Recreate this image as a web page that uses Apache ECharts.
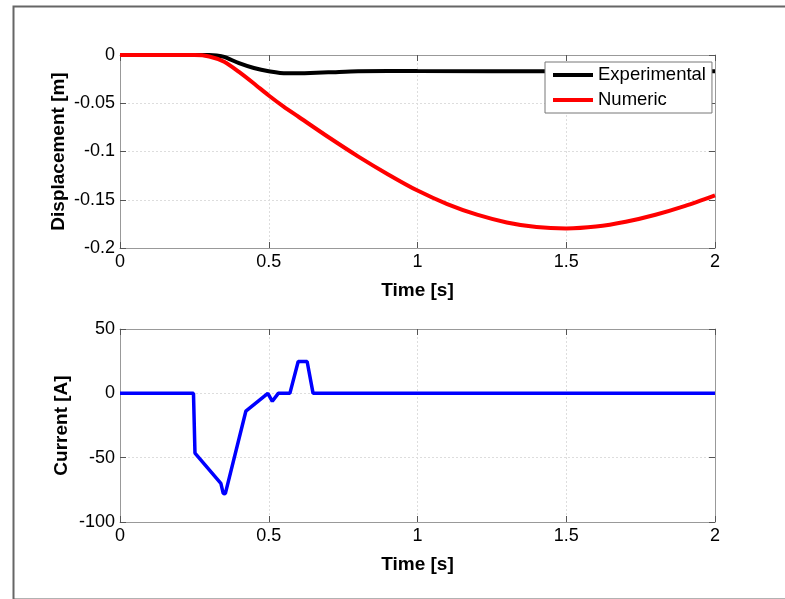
<!DOCTYPE html>
<html>
<head>
<meta charset="utf-8">
<script src="https://cdn.jsdelivr.net/npm/echarts@6/dist/echarts.min.js"></script>
<style>
  html, body { margin: 0; padding: 0; background: #fff; }
  #chart { width: 785px; height: 599px; }
</style>
</head>
<body>
<div id="chart"></div>
<script>
// displacement data
var expTime = [0, 0.3, 0.325, 0.35, 0.4, 0.45, 0.5, 0.56, 0.62, 0.7, 0.8, 0.9, 1.0, 1.5, 2.0];
var expDisp = [0, 0, -0.0005, -0.002, -0.0085, -0.0135, -0.0168, -0.019, -0.0188, -0.018, -0.0168, -0.0166, -0.0167, -0.0168, -0.0168];

var numTime = [0, 0.25, 0.3, 0.35, 0.4, 0.45, 0.5, 0.55, 0.6, 0.7, 0.8, 0.9, 1.0, 1.1, 1.2, 1.3, 1.4, 1.5, 1.6, 1.7, 1.8, 1.9, 2.0];
var numDisp = [0, 0, -0.0015, -0.007, -0.0175, -0.0295, -0.042, -0.0535, -0.064, -0.085, -0.105, -0.1235, -0.1405, -0.1545, -0.1655, -0.1735, -0.1783, -0.1797, -0.1778, -0.1728, -0.1655, -0.1563, -0.1454];

// current data
var curTime = [0, 0.247, 0.252, 0.339, 0.347, 0.354, 0.423, 0.497, 0.512, 0.532, 0.571, 0.599, 0.629, 0.649, 2.0];
var curVal  = [0, 0, -46.4, -70, -77.8, -78, -13.9, 0, -6.2, 0, 0, 24.7, 24.7, 0, 0];

function pairs(xs, ys)
{
    return xs.map(function (x, i) { return [x, ys[i]]; });
}

var font = "'Liberation Sans', Arial, Helvetica, sans-serif";
var boxColor = '#999';
var tickColor = '#555';

function xAxisFor(gridIndex, withLabels)
{
    return {
        type: 'value', gridIndex: gridIndex, min: 0, max: 2, interval: 0.5,
        position: withLabels ? 'bottom' : 'top',
        name: withLabels ? 'Time [s]' : '',
        nameLocation: 'middle', nameGap: 33,
        nameTextStyle: { fontFamily: font, fontWeight: 'bold', fontSize: 19, color: '#000' },
        axisLine: { show: true, onZero: false, lineStyle: { color: boxColor } },
        axisTick: { show: true, inside: true, length: 6, lineStyle: { color: tickColor } },
        axisLabel: { show: withLabels, fontFamily: font, fontSize: 18, color: '#000', margin: 5,
            formatter: function (v) { return String(v); } },
        splitLine: { show: withLabels, lineStyle: { color: '#ddd', type: [2, 2] } }
    };
}

function yAxisFor(gridIndex, withLabels, min, max, interval, name, gap)
{
    return {
        type: 'value', gridIndex: gridIndex, min: min, max: max, interval: interval,
        position: withLabels ? 'left' : 'right',
        name: withLabels ? name : '',
        nameLocation: 'middle', nameGap: gap, nameRotate: 90,
        nameMoveOverlap: false,
        nameTextStyle: { fontFamily: font, fontWeight: 'bold', fontSize: 19, color: '#000' },
        axisLine: { show: true, onZero: false, lineStyle: { color: boxColor } },
        axisTick: { show: true, inside: true, length: 6, lineStyle: { color: tickColor } },
        axisLabel: { show: withLabels, fontFamily: font, fontSize: 18, color: '#000', margin: 5,
            formatter: function (v) { return String(Math.round(v * 1000) / 1000); } },
        splitLine: { show: withLabels, lineStyle: { color: '#ddd', type: [2, 2] } }
    };
}

var myChart = echarts.init(document.getElementById('chart'));

var option = {
    animation: false,
    backgroundColor: '#fff',
    graphic: [{
        type: 'rect', left: 11, top: 4, silent: true,
        shape: { width: 800, height: 593 },
        style: { fill: 'none', stroke: '#666', lineWidth: 2 }
    }],
    grid: [
        { left: 120, top: 55, width: 595, height: 193 },
        { left: 120, top: 329, width: 595, height: 193 }
    ],
    xAxis: [xAxisFor(0, true), xAxisFor(0, false), xAxisFor(1, true), xAxisFor(1, false)],
    yAxis: [
        yAxisFor(0, true, -0.2, 0, 0.05, 'Displacement [m]', 52),
        yAxisFor(0, false, -0.2, 0, 0.05, '', 0),
        yAxisFor(1, true, -100, 50, 50, 'Current [A]', 49),
        yAxisFor(1, false, -100, 50, 50, '', 0)
    ],
    legend: {
        data: ['Experimental', 'Numeric'],
        orient: 'vertical', left: 545, top: 62,
        icon: 'rect', itemWidth: 40, itemHeight: 4, itemGap: 5,
        padding: [3, 6, 3, 8],
        backgroundColor: '#fff', borderColor: '#777', borderWidth: 1,
        textStyle: { fontFamily: font, fontSize: 18.5, lineHeight: 20, color: '#000' }
    },
    series: [
        {
            name: 'Experimental', type: 'line', xAxisIndex: 0, yAxisIndex: 0,
            data: pairs(expTime, expDisp), smooth: 0.3, showSymbol: false,
            lineStyle: { color: '#000', width: 4 }, itemStyle: { color: '#000' }, z: 3
        },
        {
            name: 'Numeric', type: 'line', xAxisIndex: 0, yAxisIndex: 0,
            data: pairs(numTime, numDisp), smooth: 0.25, showSymbol: false,
            lineStyle: { color: '#ff0000', width: 4 }, itemStyle: { color: '#ff0000' }, z: 4
        },
        {
            name: 'Current', type: 'line', xAxisIndex: 2, yAxisIndex: 2,
            data: pairs(curTime, curVal), showSymbol: false,
            lineStyle: { color: '#0000ff', width: 3.5 }, itemStyle: { color: '#0000ff' }
        }
    ]
};

myChart.setOption(option);
</script>
</body>
</html>
